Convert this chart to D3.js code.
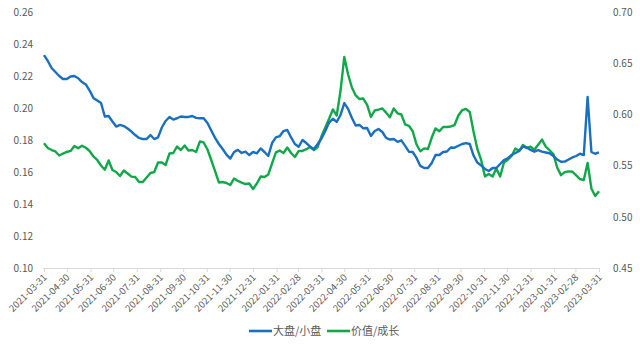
<!DOCTYPE html>
<html>
<head>
<meta charset="utf-8">
<script src="https://cdn.jsdelivr.net/npm/d3@7"></script>
<style>
  html, body { margin: 0; padding: 0; background: #fff; }
  svg { display: block; }
  text { font-family: "Noto Sans CJK SC", "Noto Sans", sans-serif; }
</style>
</head>
<body>
<svg id="chart" width="640" height="347"></svg>
<script>
// Series sampled every 5 calendar days, starting 2021-03-31
const startDate = "2021-03-31";
const stepDays = 5;

// 大盘/小盘 (left axis)
const largeSmall = [
  0.2331, 0.2294, 0.2250, 0.2225, 0.2200, 0.2181, 0.2181, 0.2197, 0.2200, 0.2186,
  0.2162, 0.2147, 0.2109, 0.2063, 0.2047, 0.2031, 0.1947, 0.1950, 0.1916, 0.1884,
  0.1894, 0.1887, 0.1872, 0.1853, 0.1831, 0.1813, 0.1806, 0.1806, 0.1831, 0.1806,
  0.1816, 0.1878, 0.1919, 0.1944, 0.1928, 0.1936, 0.1947, 0.1944, 0.1944, 0.1950,
  0.1938, 0.1936, 0.1936, 0.1906, 0.1859, 0.1813, 0.1775, 0.1744, 0.1709, 0.1684,
  0.1725, 0.1738, 0.1719, 0.1727, 0.1706, 0.1725, 0.1717, 0.1747, 0.1725, 0.1700,
  0.1781, 0.1816, 0.1824, 0.1856, 0.1863, 0.1816, 0.1775, 0.1758, 0.1800, 0.1781,
  0.1758, 0.1744, 0.1775, 0.1809, 0.1856, 0.1909, 0.1933, 0.1913, 0.1956, 0.2031,
  0.1994, 0.1938, 0.1891, 0.1894, 0.1873, 0.1875, 0.1825, 0.1856, 0.1869, 0.1850,
  0.1813, 0.1803, 0.1806, 0.1789, 0.1798, 0.1763, 0.1727, 0.1725, 0.1688, 0.1638,
  0.1625, 0.1625, 0.1656, 0.1706, 0.1706, 0.1725, 0.1728, 0.1753, 0.1752, 0.1764,
  0.1775, 0.1781, 0.1775, 0.1703, 0.1659, 0.1641, 0.1619, 0.1606, 0.1625, 0.1625,
  0.1650, 0.1675, 0.1686, 0.1706, 0.1719, 0.1731, 0.1759, 0.1753, 0.1738, 0.1727,
  0.1736, 0.1727, 0.1722, 0.1717, 0.1700, 0.1678, 0.1664, 0.1665, 0.1678, 0.1691,
  0.1700, 0.1714, 0.1706, 0.2069, 0.1725, 0.1714, 0.1722
];

// 价值/成长 (right axis)
const valueGrowth = [
  0.5718, 0.5672, 0.5652, 0.5638, 0.5599, 0.5618, 0.5633, 0.5643, 0.5691, 0.5669,
  0.5694, 0.5674, 0.5643, 0.5589, 0.5555, 0.5501, 0.5460, 0.5550, 0.5457, 0.5437,
  0.5398, 0.5452, 0.5423, 0.5392, 0.5389, 0.5340, 0.5340, 0.5384, 0.5428, 0.5437,
  0.5530, 0.5530, 0.5506, 0.5618, 0.5623, 0.5686, 0.5652, 0.5696, 0.5647, 0.5652,
  0.5633, 0.5735, 0.5726, 0.5657, 0.5555, 0.5447, 0.5335, 0.5340, 0.5330, 0.5310,
  0.5374, 0.5350, 0.5333, 0.5320, 0.5325, 0.5271, 0.5325, 0.5393, 0.5389, 0.5413,
  0.5522, 0.5630, 0.5647, 0.5623, 0.5677, 0.5623, 0.5584, 0.5643, 0.5643, 0.5660,
  0.5682, 0.5652, 0.5682, 0.5786, 0.5872, 0.5957, 0.6048, 0.5989, 0.6228, 0.6561,
  0.6390, 0.6263, 0.6185, 0.6150, 0.6155, 0.6092, 0.5975, 0.6038, 0.6046, 0.6058,
  0.6017, 0.5972, 0.6058, 0.6011, 0.5999, 0.5903, 0.5889, 0.5835, 0.5706, 0.5640,
  0.5668, 0.5662, 0.5774, 0.5863, 0.5836, 0.5877, 0.5877, 0.5882, 0.5896, 0.5989,
  0.6041, 0.6053, 0.6023, 0.5831, 0.5662, 0.5555, 0.5393, 0.5418, 0.5393, 0.5472,
  0.5393, 0.5530, 0.5557, 0.5594, 0.5667, 0.5643, 0.5701, 0.5672, 0.5686, 0.5654,
  0.5703, 0.5754, 0.5686, 0.5650, 0.5613, 0.5481, 0.5407, 0.5436, 0.5444, 0.5440,
  0.5405, 0.5369, 0.5359, 0.5525, 0.5276, 0.5203, 0.5250
];

// Axis labels
const monthEnds = [
  "2021-03-31", "2021-04-30", "2021-05-31", "2021-06-30", "2021-07-31", "2021-08-31",
  "2021-09-30", "2021-10-31", "2021-11-30", "2021-12-31", "2022-01-31", "2022-02-28",
  "2022-03-31", "2022-04-30", "2022-05-31", "2022-06-30", "2022-07-31", "2022-08-31",
  "2022-09-30", "2022-10-31", "2022-11-30", "2022-12-31", "2023-01-31", "2023-02-28",
  "2023-03-31"
];
const leftTicks = [0.10, 0.12, 0.14, 0.16, 0.18, 0.20, 0.22, 0.24, 0.26];
const rightTicks = [0.45, 0.50, 0.55, 0.60, 0.65, 0.70];
const seriesNames = ["大盘/小盘", "价值/成长"];
const seriesColors = ["#1a6fc0", "#12a84a"];

const parse = d3.timeParse("%Y-%m-%d");
const fmt = d3.timeFormat("%Y-%m-%d");
const start = parse(startDate);
const dates = largeSmall.map((_, i) => d3.timeDay.offset(start, i * stepDays));

const svg = d3.select("#chart");
const plot = { left: 44, right: 599, top: 12, bottom: 268 };

const x = d3.scaleTime()
  .domain([parse(monthEnds[0]), parse(monthEnds[monthEnds.length - 1])])
  .range([plot.left, plot.right]);
const yL = d3.scaleLinear().domain([0.10, 0.26]).range([plot.bottom, plot.top]);
const yR = d3.scaleLinear().domain([0.45, 0.70]).range([plot.bottom, plot.top]);

const labelColor = "#595959";

// Left axis labels
const axL = svg.append("g")
  .attr("transform", `translate(${plot.left - 11},0)`)
  .call(d3.axisLeft(yL).tickValues(leftTicks).tickFormat(d3.format(".2f")).tickSize(0));
axL.select(".domain").remove();
axL.selectAll("text").attr("fill", labelColor).attr("font-size", 10).attr("x", 0);

// Right axis labels
const axR = svg.append("g")
  .attr("transform", `translate(${plot.right + 14},0)`)
  .call(d3.axisRight(yR).tickValues(rightTicks).tickFormat(d3.format(".2f")).tickSize(0));
axR.select(".domain").remove();
axR.selectAll("text").attr("fill", labelColor).attr("font-size", 10).attr("x", 0);

// Bottom axis with rotated date labels
const axB = svg.append("g")
  .attr("transform", `translate(0,${plot.bottom})`)
  .call(d3.axisBottom(x).tickValues(monthEnds.map(parse)).tickFormat(fmt).tickSizeInner(4).tickSizeOuter(0));
axB.select(".domain")
  .attr("stroke", "#d9d9d9")
  .attr("d", `M${plot.left - 1},0.5H${plot.right + 1}`);
axB.selectAll(".tick line").attr("stroke", "#d9d9d9");
axB.selectAll(".tick text")
  .attr("fill", labelColor)
  .attr("font-size", 9.5)
  .attr("text-anchor", "end")
  .attr("x", 0).attr("y", 0).attr("dy", 0)
  .attr("transform", "translate(3,10) rotate(-45)");

// Lines
const lineL = d3.line().x((d, i) => x(dates[i])).y(d => yL(d));
const lineR = d3.line().x((d, i) => x(dates[i])).y(d => yR(d));

svg.append("path")
  .datum(valueGrowth)
  .attr("fill", "none")
  .attr("stroke", seriesColors[1])
  .attr("stroke-width", 2.4)
  .attr("stroke-linejoin", "round")
  .attr("d", lineR);

svg.append("path")
  .datum(largeSmall)
  .attr("fill", "none")
  .attr("stroke", seriesColors[0])
  .attr("stroke-width", 2.4)
  .attr("stroke-linejoin", "round")
  .attr("d", lineL);

// Legend
const legend = svg.append("g").attr("transform", "translate(249,331)");
const legendX = [0, 78];
seriesNames.forEach((name, i) => {
  const g = legend.append("g").attr("transform", `translate(${legendX[i]},0)`);
  g.append("line").attr("x1", 0).attr("x2", 23).attr("y1", 0).attr("y2", 0)
    .attr("stroke", seriesColors[i]).attr("stroke-width", 2.6);
  g.append("text").attr("x", 24).attr("y", 0).attr("dy", "0.36em")
    .attr("font-size", 11).attr("fill", labelColor).text(name);
});
</script>
</body>
</html>
